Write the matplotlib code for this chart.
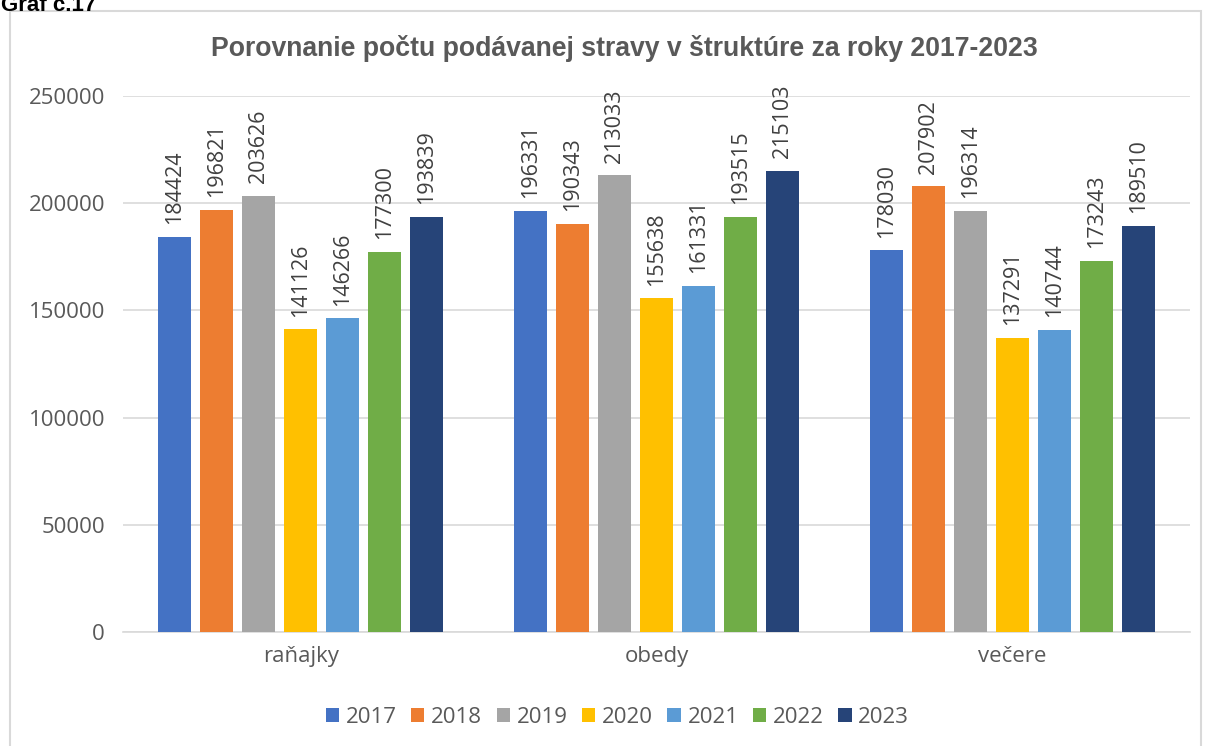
import numpy as np
import matplotlib as mpl
mpl.use('Agg')
import matplotlib.pyplot as plt
from matplotlib.patches import Rectangle

# data
categories = ['raňajky', 'obedy', 'večere']
years = ['2017', '2018', '2019', '2020', '2021', '2022', '2023']
values_2017 = [184424, 196331, 178030]
values_2018 = [196821, 190343, 207902]
values_2019 = [203626, 213033, 196314]
values_2020 = [141126, 155638, 137291]
values_2021 = [146266, 161331, 140744]
values_2022 = [177300, 193515, 173243]
values_2023 = [193839, 215103, 189510]
colors = ['#4472C4', '#ED7D31', '#A5A5A5', '#FFC000', '#5B9BD5', '#70AD47', '#264478']

series = [values_2017, values_2018, values_2019, values_2020,
          values_2021, values_2022, values_2023]

plt.rcParams['font.family'] = ['Open Sans', 'DejaVu Sans']

fig = plt.figure(figsize=(12.06, 7.46), dpi=100)
ax = fig.add_axes([0.102, 0.153, 0.885, 0.718])

# chart border
fig.patches.append(Rectangle((0.008, -0.01), 0.988, 0.995, transform=fig.transFigure,
                             fill=False, edgecolor='#D9D9D9', linewidth=1.5))
fig.text(0.001, 0.993, 'Graf č.17', fontsize=16, fontweight='bold',
         family='Liberation Sans', va='center', ha='left')

index = np.arange(len(categories))
step = 0.118
width = 0.093
for i, vals in enumerate(series):
    pos = index + (i - 3) * step
    bars = ax.bar(pos, vals, width, color=colors[i], label=years[i], zorder=3)
    for b, v in zip(bars, vals):
        ax.text(b.get_x() + b.get_width() / 2, v + 6000, str(v), rotation=90,
                ha='center', va='bottom', fontsize=15.5, color='#404040')

ax.set_xlim(-0.5, 2.5)
ax.set_ylim(0, 250000)
ax.set_yticks(np.arange(0, 250001, 50000))
ax.set_yticklabels([str(v) for v in range(0, 250001, 50000)], fontsize=16, color='#595959')
ax.set_xticks(index)
ax.set_xticklabels(categories, fontsize=16, color='#595959')
ax.tick_params(axis='both', length=0, pad=10)
ax.tick_params(axis='y', pad=13)
ax.grid(axis='y', color='#D9D9D9', linewidth=1.2, zorder=0)
for s in ['top', 'right', 'left']:
    ax.spines[s].set_visible(False)
ax.spines['bottom'].set_color('#D9D9D9')
ax.spines['bottom'].set_linewidth(1.2)

fig.text(0.518, 0.935, 'Porovnanie počtu podávanej stravy v štruktúre za roky 2017-2023',
         ha='center', va='center', fontsize=19.2, fontweight='bold',
         family='Liberation Sans', color='#595959')

leg = fig.legend(loc='center', bbox_to_anchor=(0.512, 0.038), ncol=7, frameon=False,
                 fontsize=16, handlelength=0.6, handleheight=0.6, handletextpad=0.3,
                 columnspacing=0.65)
for t in leg.get_texts():
    t.set_color('#595959')

plt.savefig('out.png', dpi=100)
plt.close()
